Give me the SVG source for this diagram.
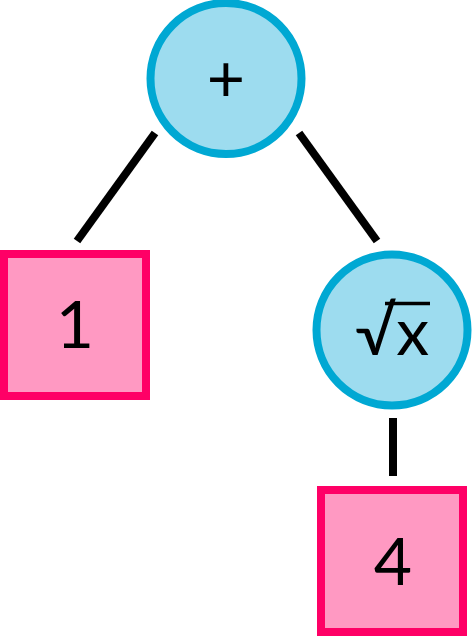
<svg xmlns="http://www.w3.org/2000/svg" width="472" height="636" viewBox="0 0 472 636">
<style>
.op{fill:#9ddcef;stroke:#00a8d3;stroke-width:8}
.num{fill:#ff99c2;stroke:#ff0066;stroke-width:8}
.lbl{font-family:Lato,"DejaVu Sans",sans-serif;font-size:66px;fill:#000;text-anchor:middle}
.edge{stroke:#000;stroke-width:8;fill:none}
.vinculum{stroke:#000;stroke-width:3.5;fill:none}
</style>
<rect width="472" height="636" fill="#fff"/>
<g id="connectors">
<line class="edge" x1="155" y1="133" x2="77" y2="241"/>
<line class="edge" x1="299" y1="133" x2="377" y2="241"/>
<line class="edge" x1="393" y1="418" x2="393" y2="476"/>
</g>
<g id="plus">
<circle class="op" cx="226" cy="78.5" r="75.5"/>
<text class="lbl" x="226" y="102">+</text>
</g>
<g id="one">
<rect class="num" x="4" y="254" width="142" height="142"/>
<text class="lbl" x="75" y="348">1</text>
</g>
<g id="sqrt">
<circle class="op" cx="392" cy="330" r="75.5"/>
<text class="lbl" x="392" y="355">√x</text>
<line class="vinculum" x1="385" y1="303.5" x2="430" y2="303.5"/>
</g>
<g id="four">
<rect class="num" x="321" y="490" width="142" height="142"/>
<text class="lbl" x="393" y="585">4</text>
</g>
</svg>
